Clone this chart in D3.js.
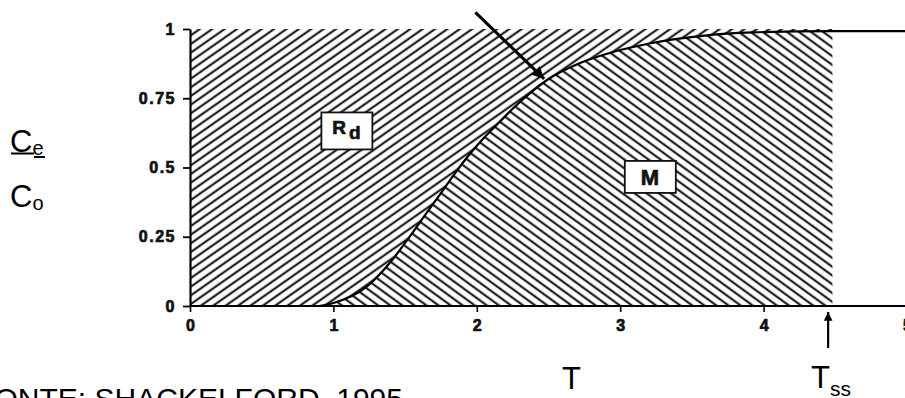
<!DOCTYPE html>
<html><head><meta charset="utf-8">
<script src="https://cdn.jsdelivr.net/npm/d3@7"></script>
<style>html,body{margin:0;padding:0;background:#fff;overflow:hidden}</style>
</head><body>
<svg id="c" width="905" height="398"></svg>
<script>
// ---- data ----
const curveX = [0.9, 1.0, 1.23, 1.41, 1.53, 1.65, 1.74, 1.83, 1.93, 2.02, 2.16, 2.25, 2.49, 2.72, 2.95, 3.18, 3.41, 3.92, 4.48, 5.0];
const curveY = [0, 0.011, 0.069, 0.166, 0.249, 0.336, 0.400, 0.466, 0.535, 0.590, 0.665, 0.712, 0.816, 0.877, 0.917, 0.945, 0.965, 0.988, 0.992, 0.992];
const xTicks = [0, 1, 2, 3, 4, 5];
const xTickLabels = ["0", "1", "2", "3", "4", "5"];
const yTicks = [0, 0.25, 0.5, 0.75, 1];
const yTickLabels = ["0", "0.25", "0.5", "0.75", "1"];
const regionLabels = ["R", "M"];
const regionSubs = ["d", ""];
const regionX = [1.094, 3.21];
const regionY = [0.632, 0.466];
const hatchEnd = 4.48;
const tss = 4.45;
const pointerFrom = [1.99, 1.06];
const pointerTo = [2.47, 0.82];

// ---- scales ----
const svg = d3.select("#c");
const x = d3.scaleLinear().domain([0, 5]).range([190, 907]);
const y = d3.scaleLinear().domain([0, 1]).range([306, 29]);
const pts = curveX.map((v, i) => ({x: v, y: curveY[i]}));
const areaPts = [{x: 0, y: 0}].concat(pts);

// ---- patterns ----
const defs = svg.append("defs");
function hatch(id, angle) {
  const p = defs.append("pattern").attr("id", id).attr("patternUnits", "userSpaceOnUse")
    .attr("width", 20).attr("height", 7.1).attr("patternTransform", `rotate(${angle})`);
  p.append("rect").attr("width", 20).attr("height", 7.1).attr("fill", "#fff");
  p.append("line").attr("x1", 0).attr("x2", 20).attr("y1", 3.5).attr("y2", 3.5)
    .attr("stroke", "#1e1e1e").attr("stroke-width", 2.2);
}
hatch("hUp", -35);
hatch("hDown", 36);
defs.append("clipPath").attr("id", "clip").append("rect")
  .attr("x", x(0)).attr("y", y(1)).attr("width", x(hatchEnd) - x(0)).attr("height", y(0) - y(1));
defs.append("marker").attr("id", "ah").attr("viewBox", "0 0 10 10").attr("refX", 10).attr("refY", 5)
  .attr("markerWidth", 5).attr("markerHeight", 4).attr("orient", "auto").attr("markerUnits", "strokeWidth")
  .append("path").attr("d", "M0,0L10,5L0,10Z").attr("fill", "#000");

const g = svg.append("g").attr("clip-path", "url(#clip)");
g.append("path").datum(areaPts)
  .attr("d", d3.area().x(d => x(d.x)).y0(y(1)).y1(d => y(d.y)).curve(d3.curveMonotoneX))
  .attr("fill", "url(#hUp)");
g.append("path").datum(areaPts)
  .attr("d", d3.area().x(d => x(d.x)).y0(y(0)).y1(d => y(d.y)).curve(d3.curveMonotoneX))
  .attr("fill", "url(#hDown)");

// curve
svg.append("path").datum(pts)
  .attr("d", d3.line().x(d => x(d.x)).y(d => y(d.y)).curve(d3.curveMonotoneX))
  .attr("fill", "none").attr("stroke", "#000").attr("stroke-width", 2.2);

// axes
const tickFont = "'Liberation Sans', Arial, sans-serif";
function heavy(sel, size, ls) {
  sel.style("font-family", tickFont).style("font-weight", "bold").style("font-size", size + "px")
    .style("letter-spacing", ls + "px").attr("fill", "#111").attr("stroke", "#111").attr("stroke-width", 0.7);
}
const xAxis = svg.append("g").attr("transform", `translate(0,${y(0)})`)
  .call(d3.axisBottom(x).tickValues(xTicks).tickFormat((d, i) => xTickLabels[i]).tickSize(6).tickSizeOuter(0));
xAxis.attr("font-size", null).attr("font-family", null);
xAxis.select(".domain").attr("d", `M${x(0)},0H905`).attr("stroke-width", 2);
xAxis.selectAll(".tick line").attr("stroke-width", 1.6);
heavy(xAxis.selectAll("text"), 16, 0);
xAxis.selectAll("text").attr("y", 14).attr("dy", "0.71em");

const yAxis = svg.append("g").attr("transform", `translate(${x(0)},0)`)
  .call(d3.axisLeft(y).tickValues(yTicks).tickFormat((d, i) => yTickLabels[i]).tickSize(7).tickSizeOuter(0));
yAxis.attr("font-size", null).attr("font-family", null);
yAxis.select(".domain").attr("stroke-width", 2.2);
yAxis.selectAll(".tick line").attr("stroke-width", 1.8);
heavy(yAxis.selectAll("text"), 16, 1.5);
yAxis.selectAll("text").attr("x", -14);

// region labels
regionLabels.forEach((lab, i) => {
  const cx = x(regionX[i]), cy = y(regionY[i]);
  const w = 51, h = lab === "R" ? 37 : 32;
  svg.append("rect").attr("x", cx - w / 2).attr("y", cy - h / 2).attr("width", w).attr("height", h)
    .attr("fill", "#fff").attr("stroke", "#111").attr("stroke-width", 1.8);
  const t = svg.append("text").attr("x", cx).attr("y", cy + (lab === "R" ? 3 : 8)).attr("text-anchor", "middle");
  heavy(t, lab === "R" ? 19 : 22, 1);
  t.append("tspan").text(lab);
  if (regionSubs[i]) t.append("tspan").attr("dx", 2).attr("dy", 5).text(regionSubs[i]);
});

// pointer arrow
svg.append("line").attr("x1", x(pointerFrom[0])).attr("y1", y(pointerFrom[1]))
  .attr("x2", x(pointerTo[0])).attr("y2", y(pointerTo[1]))
  .attr("stroke", "#000").attr("stroke-width", 3).attr("marker-end", "url(#ah)");

// Tss arrow
svg.append("line").attr("x1", x(tss)).attr("x2", x(tss)).attr("y1", 348).attr("y2", 312)
  .attr("stroke", "#000").attr("stroke-width", 2.2).attr("marker-end", "url(#ah)");

// outer texts
const big = "'Liberation Sans', Arial, sans-serif";
function sub(xp, yp, main, s, size, ssize, dy) {
  const t = svg.append("text").attr("x", xp).attr("y", yp).style("font-family", big).style("font-size", size + "px").attr("fill", "#000");
  t.append("tspan").text(main);
  if (s) t.append("tspan").style("font-size", ssize + "px").attr("dy", dy).text(s);
  return t;
}
sub(10, 152, "C", "e", 31, 20, 3);
svg.append("line").attr("x1", 11).attr("x2", 34).attr("y1", 153.5).attr("y2", 153.5).attr("stroke", "#000").attr("stroke-width", 2);
svg.append("line").attr("x1", 34).attr("x2", 45).attr("y1", 157).attr("y2", 157).attr("stroke", "#000").attr("stroke-width", 2);
sub(10, 207, "C", "o", 31, 20, 3);
sub(562, 389, "T", "", 31, 20, 0);
sub(811, 388, "T", "ss", 31, 21, 8);
svg.append("text").attr("x", 403).attr("y", 409).attr("text-anchor", "end")
  .style("font-family", big).style("font-size", "30px").attr("fill", "#000").text("FONTE: SHACKELFORD, 1995");
</script>
</body></html>
